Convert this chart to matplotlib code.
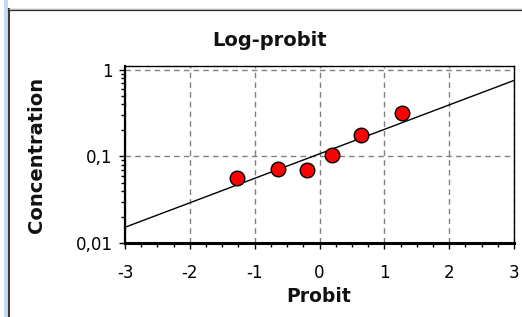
import matplotlib
matplotlib.use("Agg")
import matplotlib.pyplot as plt
from matplotlib.ticker import FixedLocator, FuncFormatter, LogLocator, MultipleLocator
from matplotlib.lines import Line2D
from matplotlib.patches import Rectangle

# Data
probit = [-1.28, -0.64, -0.20, 0.20, 0.64, 1.28]
concentration = [0.057, 0.071, 0.070, 0.103, 0.175, 0.317]
line_probit = [-3.0, 3.0]
line_conc = [0.0152, 0.757]
x_ticks = [-3, -2, -1, 0, 1, 2, 3]
y_ticks = [0.01, 0.1, 1]
y_tick_labels = ["0,01", "0,1", "1"]

W, H = 522, 317
fig = plt.figure(figsize=(W / 100, H / 100), dpi=100)
fig.patch.set_facecolor("white")

# panel decorations
fig.add_artist(Rectangle((4 / W, 0), 4 / W, 1, transform=fig.transFigure,
                         facecolor="#c9d9ee", edgecolor="none"))
fig.add_artist(Line2D([8.5 / W, 8.5 / W], [0, 1 - 9 / H], transform=fig.transFigure,
                      color="#3a3a3a", lw=1.5))
fig.add_artist(Line2D([8.5 / W, 1], [1 - 10 / H, 1 - 10 / H], transform=fig.transFigure,
                      color="#2a2a2a", lw=1.6))
fig.add_artist(Line2D([8.5 / W, 1], [1 - 8.5 / H, 1 - 8.5 / H], transform=fig.transFigure,
                      color="#bbbbbb", lw=0.7))

left, right, top, bottom = 125, 514, 66, 243
ax = fig.add_axes([left / W, 1 - bottom / H, (right - left) / W, (bottom - top) / H])
ax.set_facecolor("white")

ax.plot(line_probit, line_conc, color="black", lw=1.0, zorder=3)
ax.plot(probit, concentration, linestyle="none", marker="o", markersize=10.5,
        markerfacecolor="#ff0000", markeredgecolor="black", markeredgewidth=1.0, zorder=4)

ax.set_yscale("log")
ax.set_xlim(-3, 3)
ax.set_ylim(0.01, 1.112)

ax.xaxis.set_major_locator(FixedLocator(x_ticks))
ax.xaxis.set_minor_locator(MultipleLocator(0.25))
ax.set_xticklabels([str(t) for t in x_ticks])
ax.yaxis.set_major_locator(FixedLocator(y_ticks))
ax.yaxis.set_minor_locator(LogLocator(base=10, subs=range(2, 10)))
ax.yaxis.set_minor_formatter(FuncFormatter(lambda v, p: ""))
ax.set_yticklabels(y_tick_labels)

ax.grid(True, which="major", color="#808080", linestyle=(0, (4, 3)), lw=1.0)
ax.set_axisbelow(True)

ax.tick_params(axis="both", which="major", direction="out", length=4, width=1.0,
               labelsize=12, colors="black")
ax.tick_params(axis="both", which="minor", direction="out", length=3, width=1.0)
ax.tick_params(axis="x", which="major", pad=11)
ax.tick_params(axis="y", which="major", pad=5)

ax.spines["left"].set_linewidth(1.6)
ax.spines["bottom"].set_linewidth(2.2)
ax.spines["top"].set_linewidth(1.0)
ax.spines["right"].set_linewidth(1.0)

fig.text(270 / W, 1 - 40 / H, "Log-probit", ha="center", va="center",
         fontsize=14, fontweight="bold", color="#111111")
fig.text(319 / W, 1 - 297 / H, "Probit", ha="center", va="center",
         fontsize=13.5, fontweight="bold", color="#111111")
fig.text(37 / W, 1 - 155 / H, "Concentration", ha="center", va="center",
         rotation=90, fontsize=14, fontweight="bold", color="#111111")

fig.savefig("out.png", dpi=100)
